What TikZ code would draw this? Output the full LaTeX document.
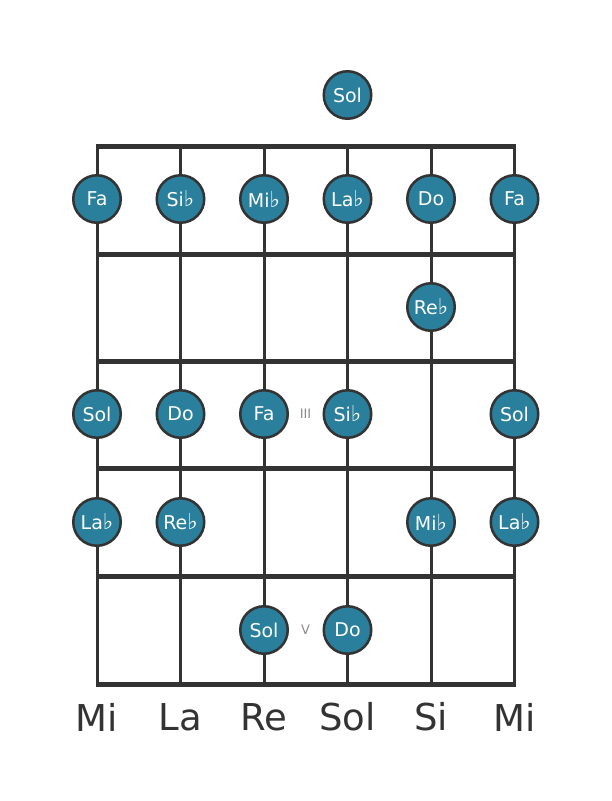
\documentclass[tikz,border=0pt]{standalone}
\usepackage{fontspec}
\setmainfont{DejaVu Sans}
\usepackage{tikz}
\definecolor{notefill}{HTML}{2A7F9C}
\definecolor{gridcol}{HTML}{333333}
\definecolor{markcol}{HTML}{8A8A8A}
\newcommand{\fl}{{\fontsize{22}{22}\selectfont ♭}}
\tikzset{
    string/.style={draw=gridcol,line width=3pt},
    fret/.style={draw=gridcol,line width=5pt},
    note/.style={circle,draw=gridcol,line width=2.5pt,fill=notefill,
        minimum size=47.5pt,inner sep=0pt,text=white,
        font=\fontsize{19}{19}\selectfont},
    tuning/.style={text=gridcol,font=\fontsize{37}{38}\selectfont},
    position/.style={text=markcol,font=\fontsize{13}{13}\selectfont}
}

\begin{document}
\begin{tikzpicture}[x=1pt,y=-1pt]
    \useasboundingbox (0,0) rectangle (611,801);
    % strings
    \coordinate (a1) at (97,146);    \coordinate (b1) at (97,684);
    \coordinate (a2) at (180.5,146); \coordinate (b2) at (180.5,684);
    \coordinate (a3) at (264,146);   \coordinate (b3) at (264,684);
    \coordinate (a4) at (347.5,146); \coordinate (b4) at (347.5,684);
    \coordinate (a5) at (431,146);   \coordinate (b5) at (431,684);
    \coordinate (a6) at (514.5,146); \coordinate (b6) at (514.5,684);
    \path[string] (a1) -- (b1) (a2) -- (b2) (a3) -- (b3)
        (a4) -- (b4) (a5) -- (b5) (a6) -- (b6);
    % frets
    \path[fret] (95.5,146) -- (516,146) (95.5,254) -- (516,254)
        (95.5,361) -- (516,361) (95.5,468.5) -- (516,468.5)
        (95.5,576.5) -- (516,576.5) (95.5,684) -- (516,684);
    % open string
    \node[note] at (347.5,95) (c41a09e2) {Sol};
    % fret 1
    \node[note] at (97,199) (5e0b7d13) {Fa};
    \node[note] at (180.5,199) (9f2c4a81) {Si\fl};
    \node[note] at (264,199) (0d7e3b56) {Mi\fl};
    \node[note] at (347.5,199) (e61f8c20) {La\fl};
    \node[note] at (431,199) (37a9d4bf) {Do};
    \node[note] at (514.5,199) (b2c05e47) {Fa};
    % fret 2
    \node[note] at (431,307) (48f1a6c9) {Re\fl};
    % fret 3
    \node[note] at (97,414) (a05d92e3) {Sol};
    \node[note] at (180.5,414) (6c3b8f17) {Do};
    \node[note] at (264,414) (d29e4a70) {Fa};
    \node[note] at (347.5,414) (1f8b5c3d) {Si\fl};
    \node[note] at (514.5,414) (7ae40d92) {Sol};
    \node[position] at (305.5,414) (f3c6a18e) {III};
    % fret 4
    \node[note] at (97,522) (90d3e7b4) {La\fl};
    \node[note] at (180.5,522) (2b7f16ca) {Re\fl};
    \node[note] at (431,522) (c8a25d01) {Mi\fl};
    \node[note] at (514.5,522) (64e9b3f8) {La\fl};
    % fret 5
    \node[note] at (264,630) (e7d41c5a) {Sol};
    \node[note] at (347.5,630) (3a9b62df) {Do};
    \node[position] at (305.5,630) (8d05f2b1) {V};
    % tuning
    \node[tuning] at (97,717) (0c4e8a73) {Mi};
    \node[tuning] at (180.5,717) (5b92d7e6) {La};
    \node[tuning] at (264,717) (a7e3f019) {Re};
    \node[tuning] at (347.5,717) (16cd84b2) {Sol};
    \node[tuning] at (431,717) (d4a07e5c) {Si};
    \node[tuning] at (514.5,717) (9e1b35a8) {Mi};
\end{tikzpicture}
\end{document}
